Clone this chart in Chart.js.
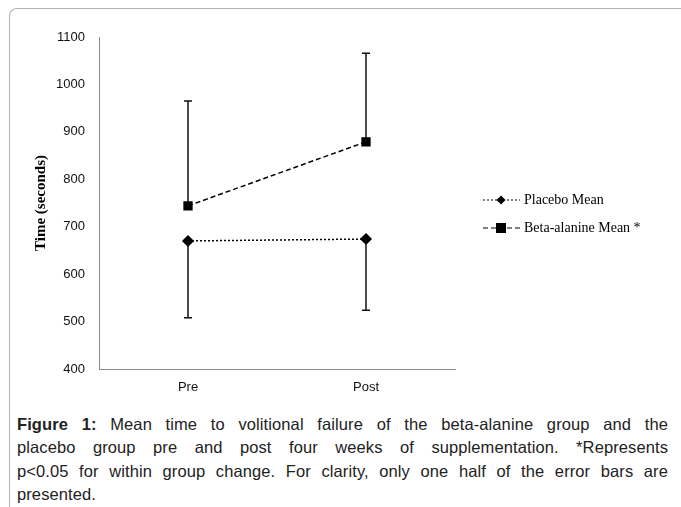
<!DOCTYPE html>
<html>
<head>
<meta charset="utf-8">
<script src="https://cdn.jsdelivr.net/npm/chart.js@4.4.1/dist/chart.umd.min.js"></script>
<style>
  body { margin: 0; background: #fff; }
  #frame {
    position: absolute; left: 9px; top: 8px; width: 680px; height: 520px;
    border-left: 1px solid #b4b4b4; border-top: 1px solid #b4b4b4;
    border-top-left-radius: 8px;
  }
  #wrap { position: absolute; left: 10px; top: 9px; width: 670px; height: 400px; }
  #caption {
    position: absolute; left: 17px; top: 413px; width: 651px;
    font-family: "Liberation Sans", Arial, sans-serif; font-size: 16.5px;
    letter-spacing: 0.1px; line-height: 23.3px; color: #222;
  }
  #caption span { display: block; text-align: justify; text-align-last: justify; white-space: nowrap; }
  #caption span.last { text-align-last: left; }
</style>
</head>
<body>
<div id="frame"></div>
<div id="wrap"><canvas id="chart"></canvas></div>
<div id="caption">
  <span><b>Figure 1:</b> Mean time to volitional failure of the beta-alanine group and the</span>
  <span>placebo group pre and post four weeks of supplementation. *Represents</span>
  <span>p&lt;0.05 for within group change. For clarity, only one half of the error bars are</span>
  <span class="last">presented.</span>
</div>
<script>
// datos
var categories = ['Pre', 'Post'];
var placeboMean = [670, 674];
var placeboLower = [508, 524];      // solo la mitad inferior
var betaMean = [744, 879];
var betaUpper = [965, 1066];        // solo la mitad superior
var yTicks = [400, 500, 600, 700, 800, 900, 1000, 1100];

var legendItems = [
  { label: 'Placebo Mean', dash: [2, 2], point: 'diamond' },
  { label: 'Beta-alanine Mean *', dash: [5, 3], point: 'square' }
];

// barras de error dibujadas con las escalas de Chart.js
var errorBars = {
  id: 'errorBars',
  afterDatasetsDraw: function(chart) {
    var ctx = chart.ctx, x = chart.scales.x, y = chart.scales.y;
    var sets = [[betaMean, betaUpper], [placeboMean, placeboLower]];
    ctx.save();
    ctx.strokeStyle = '#111';
    ctx.lineWidth = 1.5;
    sets.forEach(function(s) {
      for (var i = 0; i < categories.length; i++) {
        var px = x.getPixelForValue(i);
        var y0 = y.getPixelForValue(s[0][i]);
        var y1 = y.getPixelForValue(s[1][i]);
        ctx.beginPath();
        ctx.moveTo(px, y0); ctx.lineTo(px, y1);
        ctx.moveTo(px - 4, y1); ctx.lineTo(px + 4, y1);
        ctx.stroke();
      }
    });
    ctx.restore();
  }
};

// leyenda con linea y marcador
var lineLegend = {
  id: 'lineLegend',
  afterDraw: function(chart) {
    var ctx = chart.ctx, a = chart.chartArea;
    var x0 = a.right + 28, x1 = x0 + 37, mx = x0 + 18;
    var cy = (a.top + a.bottom) / 2 - 3;
    ctx.save();
    ctx.font = '14px "Liberation Serif", "Times New Roman", serif';
    ctx.textBaseline = 'middle';
    legendItems.forEach(function(it, i) {
      var yy = cy + i * 28;
      ctx.strokeStyle = '#000'; ctx.lineWidth = 1.2;
      ctx.setLineDash(it.dash);
      ctx.beginPath(); ctx.moveTo(x0, yy); ctx.lineTo(x1, yy); ctx.stroke();
      ctx.setLineDash([]);
      ctx.fillStyle = '#000';
      ctx.beginPath();
      if (it.point === 'diamond') {
        ctx.moveTo(mx, yy - 4.5); ctx.lineTo(mx + 4.5, yy);
        ctx.lineTo(mx, yy + 4.5); ctx.lineTo(mx - 4.5, yy);
      } else {
        ctx.rect(mx - 5, yy - 5, 10, 10);
      }
      ctx.fill();
      ctx.fillText(it.label, x1 + 4, yy);
    });
    ctx.restore();
  }
};

new Chart(document.getElementById('chart'), {
  type: 'line',
  data: {
    labels: categories,
    datasets: [{
      label: 'Placebo Mean',
      data: placeboMean,
      borderColor: '#000', backgroundColor: '#000',
      borderWidth: 1.5, borderDash: [2, 2],
      pointStyle: 'rectRot', pointRadius: 5, pointHoverRadius: 5
    }, {
      label: 'Beta-alanine Mean *',
      data: betaMean,
      borderColor: '#000', backgroundColor: '#000',
      borderWidth: 1.5, borderDash: [5, 3],
      pointStyle: 'rect', pointRadius: 5.5, pointHoverRadius: 5.5
    }]
  },
  options: {
    responsive: true,
    maintainAspectRatio: false,
    animation: false,
    layout: { padding: { top: 28, right: 225, left: 0, bottom: 0 } },
    plugins: { legend: { display: false }, tooltip: { enabled: false } },
    scales: {
      x: {
        offset: true,
        grid: { display: false, drawTicks: false },
        border: { display: true, color: '#8c8c8c', width: 1 },
        ticks: { padding: 11, color: '#111', font: { family: '"Liberation Sans", Arial, sans-serif', size: 13 } },
        afterFit: function(s) { s.height = 40; }
      },
      y: {
        min: 400, max: 1100,
        afterBuildTicks: function(s) { s.ticks = yTicks.map(function(v) { return { value: v }; }); },
        grid: { display: false, drawTicks: false },
        border: { display: true, color: '#8c8c8c', width: 1 },
        ticks: {
          padding: 14, color: '#111',
          font: { family: '"Liberation Sans", Arial, sans-serif', size: 13 },
          callback: function(v) { return String(v); }
        },
        title: {
          display: true, text: 'Time (seconds)', color: '#000',
          padding: { top: 22, bottom: 0 },
          font: { family: '"Liberation Serif", "Times New Roman", serif', size: 15, weight: 'bold' }
        },
        afterFit: function(s) { s.width = 89; }
      }
    }
  },
  plugins: [errorBars, lineLegend]
});
</script>
</body>
</html>
